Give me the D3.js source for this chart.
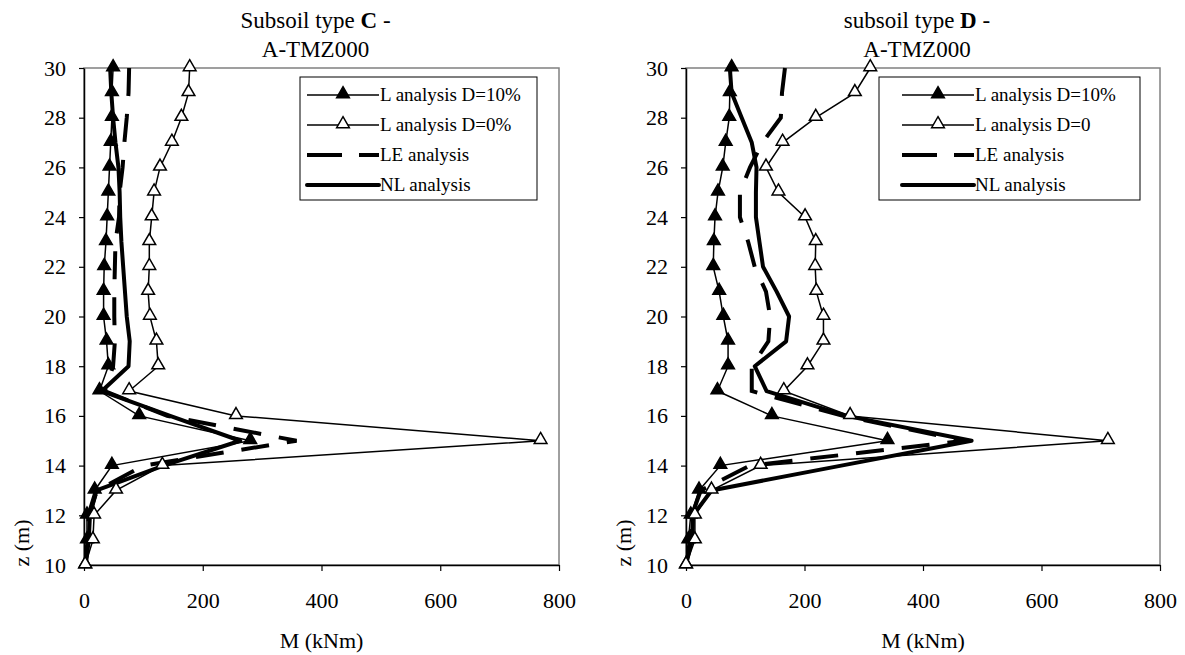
<!DOCTYPE html>
<html>
<head>
<meta charset="utf-8">
<script src="https://cdn.jsdelivr.net/npm/d3@7"></script>
<style>
  body { margin: 0; background: #fff; }
  svg text { font-family: "Liberation Serif", "Times New Roman", serif !important; }
</style>
</head>
<body>
<div class="chart"></div>
<script>
// depth values (m), top to bottom
const depths = [30, 29, 28, 27, 26, 25, 24, 23, 22, 21, 20, 19, 18, 17, 16, 15, 14, 13, 12, 11, 10];
const xTicks = [0, 200, 400, 600, 800];
const yTicks = [10, 12, 14, 16, 18, 20, 22, 24, 26, 28, 30];

// Subsoil type C
const cL10 = [49, 47, 47, 45, 43, 41, 39, 37, 34, 33, 33, 38, 41, 26, 93, 280, 47, 18, 5, 5, 2];
const cL0 = [178, 176, 164, 148, 128, 118, 114, 110, 110, 108, 111, 122, 125, 76, 256, 769, 132, 54, 17, 15, 2];
const cLE = [76, 75, 72, 68, 65, 60, 59, 53, 52, 51, 51, 52, 49, 35, 140, 358, 100, 22, 8, 6, 2];
const cNL = [44, 46, 49, 53, 58, 60, 61, 63, 66, 69, 72, 77, 75, 30, 145, 263, 134, 21, 10, 8, 3];

// Subsoil type D
const dL10 = [77, 74, 73, 67, 62, 54, 49, 47, 46, 56, 63, 71, 71, 53, 145, 340, 58, 22, 8, 4, 0];
const dL0 = [311, 285, 219, 163, 135, 156, 201, 219, 218, 220, 232, 232, 205, 165, 277, 712, 126, 43, 15, 15, 0];
const dLE = [167, 162, 160, 129, 108, 91, 91, 105, 116, 135, 142, 139, 111, 111, 265, 470, 108, 25, 10, 8, 0];
const dNL = [74, 77, 94, 111, 119, 118, 118, 124, 130, 153, 174, 169, 116, 136, 271, 482, 262, 43, 12, 10, 0];

const cLabels = ["L analysis D=10%", "L analysis D=0%", "LE analysis", "NL analysis"];
const dLabels = ["L analysis D=10%", "L analysis D=0", "LE analysis", "NL analysis"];

const svg = d3.select(".chart").append("svg")
  .attr("width", 1185)
  .attr("height", 655);

const tri = d3.symbol().type(d3.symbolTriangle).size(70);

function drawPanel(p) {
  const x = d3.scaleLinear().domain([0, 800]).range([p.left, p.right]);
  const y = d3.scaleLinear().domain([10, 30]).range([565, 68]);
  const g = svg.append("g");
  const mid = (p.left + p.right) / 2;

  // plot area border
  g.append("rect")
    .attr("x", p.left).attr("y", 68)
    .attr("width", p.right - p.left).attr("height", 565 - 68)
    .attr("fill", "none").attr("stroke", "#808080").attr("stroke-width", 1.5);

  // axes
  const yAxis = g.append("g")
    .attr("transform", `translate(${p.left},0)`)
    .call(d3.axisLeft(y).tickValues(yTicks).tickSize(5).tickSizeOuter(0).tickPadding(13));
  const xAxis = g.append("g")
    .attr("transform", "translate(0,565)")
    .call(d3.axisBottom(x).tickValues(xTicks).tickSize(6).tickSizeOuter(0).tickPadding(21));
  [xAxis, yAxis].forEach((a) => {
    a.attr("font-family", null);
    a.select(".domain").attr("stroke", "#000").attr("stroke-width", 1.5);
    a.selectAll(".tick line").attr("stroke", "#000").attr("stroke-width", 1.2);
    a.selectAll("text").attr("font-size", 22).attr("fill", "#000");
  });

  // axis titles
  g.append("text")
    .attr("x", mid).attr("y", 648)
    .attr("text-anchor", "middle").attr("font-size", 22)
    .text("M (kNm)");
  g.append("text")
    .attr("transform", `translate(${p.left - 55},543) rotate(-90)`)
    .attr("text-anchor", "middle").attr("font-size", 22)
    .text("z (m)");

  // title
  const t = g.append("text")
    .attr("x", mid - 6).attr("y", 28)
    .attr("text-anchor", "middle").attr("font-size", 23);
  t.append("tspan").text(p.titlePre);
  t.append("tspan").attr("font-weight", "bold").text(p.soil);
  t.append("tspan").text(" -");
  g.append("text")
    .attr("x", mid - 6).attr("y", 57)
    .attr("text-anchor", "middle").attr("font-size", 23)
    .text("A-TMZ000");

  const line = d3.line()
    .x((d) => x(d[0]))
    .y((d) => y(d[1]));
  const pairs = (vals) => vals.map((v, i) => [v, depths[i]]);

  // LE dashed
  g.append("path").datum(pairs(p.le)).attr("d", line)
    .attr("fill", "none").attr("stroke", "#000").attr("stroke-width", 4)
    .attr("stroke-dasharray", "28,18");
  // NL thick solid
  g.append("path").datum(pairs(p.nl)).attr("d", line)
    .attr("fill", "none").attr("stroke", "#000").attr("stroke-width", 4)
    .attr("stroke-linejoin", "round");

  // L analysis with markers
  [[p.l10, "#000"], [p.l0, "#fff"]].forEach(([vals, fill]) => {
    g.append("path").datum(pairs(vals)).attr("d", line)
      .attr("fill", "none").attr("stroke", "#000").attr("stroke-width", 1.5);
    g.selectAll(null).data(pairs(vals)).enter().append("path")
      .attr("d", tri)
      .attr("transform", (d) => `translate(${x(d[0])},${y(d[1]) - 1})`)
      .attr("fill", fill).attr("stroke", "#000").attr("stroke-width", 1.5);
  });

  // legend
  const lg = g.append("g");
  lg.append("rect")
    .attr("x", p.legX).attr("y", 77)
    .attr("width", p.legW).attr("height", 123)
    .attr("fill", "#fff").attr("stroke", "#000").attr("stroke-width", 1);
  const lx0 = p.legX + p.lineOff;
  const lx1 = lx0 + 72;
  p.labels.forEach((lab, i) => {
    const ly = 95 + i * 30;
    if (i < 2) {
      lg.append("line").attr("x1", lx0).attr("x2", lx1).attr("y1", ly).attr("y2", ly)
        .attr("stroke", "#000").attr("stroke-width", 1.5);
      lg.append("path").attr("d", tri)
        .attr("transform", `translate(${(lx0 + lx1) / 2},${ly - 1})`)
        .attr("fill", i === 0 ? "#000" : "#fff").attr("stroke", "#000").attr("stroke-width", 1.5);
    } else {
      lg.append("line").attr("x1", lx0).attr("x2", lx1).attr("y1", ly).attr("y2", ly)
        .attr("stroke", "#000").attr("stroke-width", 4)
        .attr("stroke-dasharray", i === 2 ? "35,17" : null)
        .attr("stroke-linecap", i === 3 ? "round" : null);
    }
    lg.append("text")
      .attr("x", lx1 + 1).attr("y", ly + 6)
      .attr("font-size", 19)
      .text(lab);
  });
}

drawPanel({
  left: 84, right: 559, soil: "C", titlePre: "Subsoil type ",
  l10: cL10, l0: cL0, le: cLE, nl: cNL,
  labels: cLabels, legX: 300, legW: 237, lineOff: 7
});
drawPanel({
  left: 686, right: 1160, soil: "D", titlePre: "subsoil type ",
  l10: dL10, l0: dL0, le: dLE, nl: dNL,
  labels: dLabels, legX: 879, legW: 261, lineOff: 23
});
</script>
</body>
</html>
